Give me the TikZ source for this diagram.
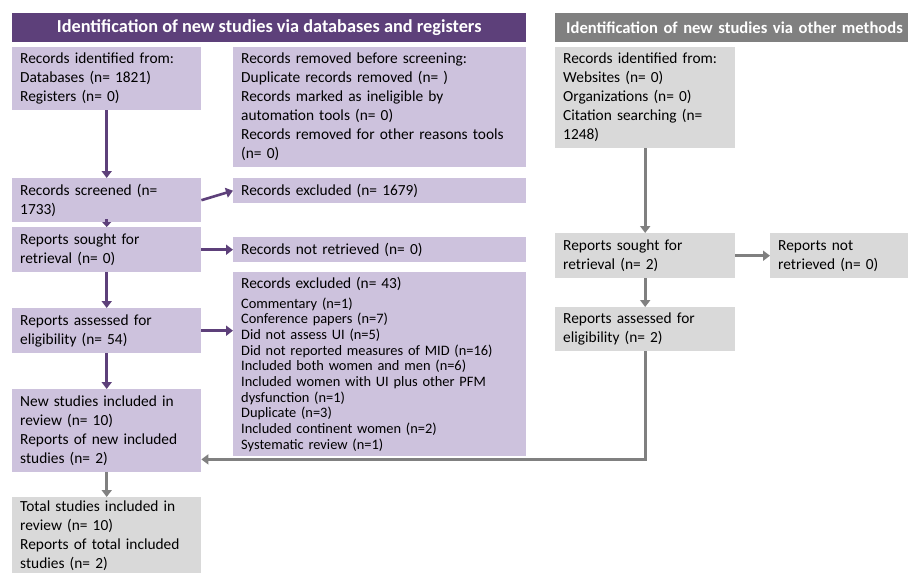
\documentclass[tikz,border=0pt]{standalone}
\usepackage{fontspec}
\setmainfont{Carlito}
\usepackage{xcolor}
\usetikzlibrary{arrows.meta}

\definecolor{headpurple}{RGB}{93,64,122}
\definecolor{boxlilac}{RGB}{205,194,221}
\definecolor{headgray}{RGB}{128,128,128}
\definecolor{boxgray}{RGB}{217,217,217}
\definecolor{arrowgray}{RGB}{128,128,128}

\begin{document}
\begin{tikzpicture}[x=1pt,y=-1pt,
  box/.style={anchor=north west, inner xsep=8pt, inner ysep=0pt, align=left,
    font=\fontsize{15.4}{19}\selectfont},
  pbox/.style={box, fill=boxlilac},
  gbox/.style={box, fill=boxgray},
  narrow/.style={text width=173pt},
  wide/.style={text width=277pt},
  mid/.style={text width=164pt},
  head/.style={anchor=north west, inner xsep=11pt, inner ysep=0pt, minimum height=29pt,
    text=white, font=\bfseries\fontsize{18.3}{20}\selectfont},
  parrow/.style={draw=headpurple, line width=2.6pt, >={Triangle[length=7pt,width=10pt]}, ->},
  garrow/.style={draw=arrowgray, line width=2.6pt, >={Triangle[length=7pt,width=10pt]}, ->}]

\useasboundingbox[fill=white] (0,0) rectangle (908,573);

\node[head, fill=headpurple, minimum width=514pt] (dbhead) at (12,13)
  {Identification of new studies via databases and registers};
\node[head, fill=headgray, text width=335pt, align=left, font=\bfseries\fontsize{16.6}{20}\selectfont] (otherhead) at (555,13)
  {\mbox{Identification of new studies via other methods}};

% left column
\node[pbox, narrow, minimum height=63pt] (recid) at (12,47)
  {Records identified from:\\Databases (n= 1821)\\Registers (n= 0)};
\node[pbox, narrow, minimum height=44pt] (screened) at (12,178)
  {Records screened (n=\\1733)};
\node[pbox, narrow, minimum height=45pt] (sought) at (12,227)
  {Reports sought for\\retrieval (n= 0)};
\node[pbox, narrow, minimum height=45pt] (assessed) at (12,308)
  {Reports assessed for\\eligibility (n= 54)};
\node[pbox, narrow, minimum height=83pt] (newincl) at (12,389)
  {New studies included in\\review (n= 10)\\Reports of new included\\studies (n= 2)};
\node[gbox, narrow, minimum height=77pt] (totincl) at (12,497)
  {Total studies included in\\review (n= 10)\\Reports of total included\\studies (n= 2)};

% middle column
\node[pbox, wide, minimum height=120pt] (removed) at (233,47)
  {Records removed before screening:\\Duplicate records removed (n= )\\Records marked as ineligible by\\automation tools (n= 0)\\Records removed for other reasons tools\\(n= 0)};
\node[pbox, wide, minimum height=25pt] (recexcl) at (233,178)
  {Records excluded (n= 1679)};
\node[pbox, wide, minimum height=25pt] (notret) at (233,237)
  {Records not retrieved (n= 0)};
\node[pbox, wide, minimum height=184pt, font=\fontsize{14.4}{15.7}\selectfont] (repexcl) at (233,272)
  {{\fontsize{15.4}{19}\selectfont Records excluded (n= 43)}\\[4.3pt]
   Commentary (n=1)\\Conference papers (n=7)\\Did not assess UI (n=5)\\
   Did not reported measures of MID (n=16)\\Included both women and men (n=6)\\
   Included women with UI plus other PFM\\dysfunction (n=1)\\Duplicate (n=3)\\
   Included continent women (n=2)\\Systematic review (n=1)};

% right column
\node[gbox, mid, minimum height=101pt] (otherid) at (555,47)
  {Records identified from:\\Websites (n= 0)\\Organizations (n= 0)\\Citation searching (n=\\1248)};
\node[gbox, mid, minimum height=45pt] (soughtother) at (555,233)
  {Reports sought for\\retrieval (n= 2)};
\node[gbox, text width=140pt, minimum height=45pt] (notretother) at (770,233)
  {Reports not\\retrieved (n= 0)};
\node[gbox, mid, minimum height=44pt] (assessother) at (555,307)
  {Reports assessed for\\eligibility (n= 2)};

\draw[parrow] (recid.south) -- (screened.north);
\draw[parrow, >={Triangle[length=5pt,width=9pt]}] ([yshift=3pt]screened.south) -- (sought.north);
\draw[parrow] (sought.south) -- (assessed.north);
\draw[parrow] (assessed.south) -- (newincl.north);
\draw[garrow] (newincl.south) -- (totincl.north);
\draw[parrow] (screened.east) -- (recexcl.west);
\draw[parrow] (sought.east) -- (notret.west);
\draw[parrow] (assessed.east) -- (assessed.east -| repexcl.west);

\draw[garrow] (otherid.south) -- (soughtother.north);
\draw[garrow] (soughtother.east) -- (notretother.west);
\draw[garrow] (soughtother.south) -- (assessother.north);
\draw[garrow] (assessother.south) |- ([yshift=13pt]newincl.south east);

\end{tikzpicture}
\end{document}
